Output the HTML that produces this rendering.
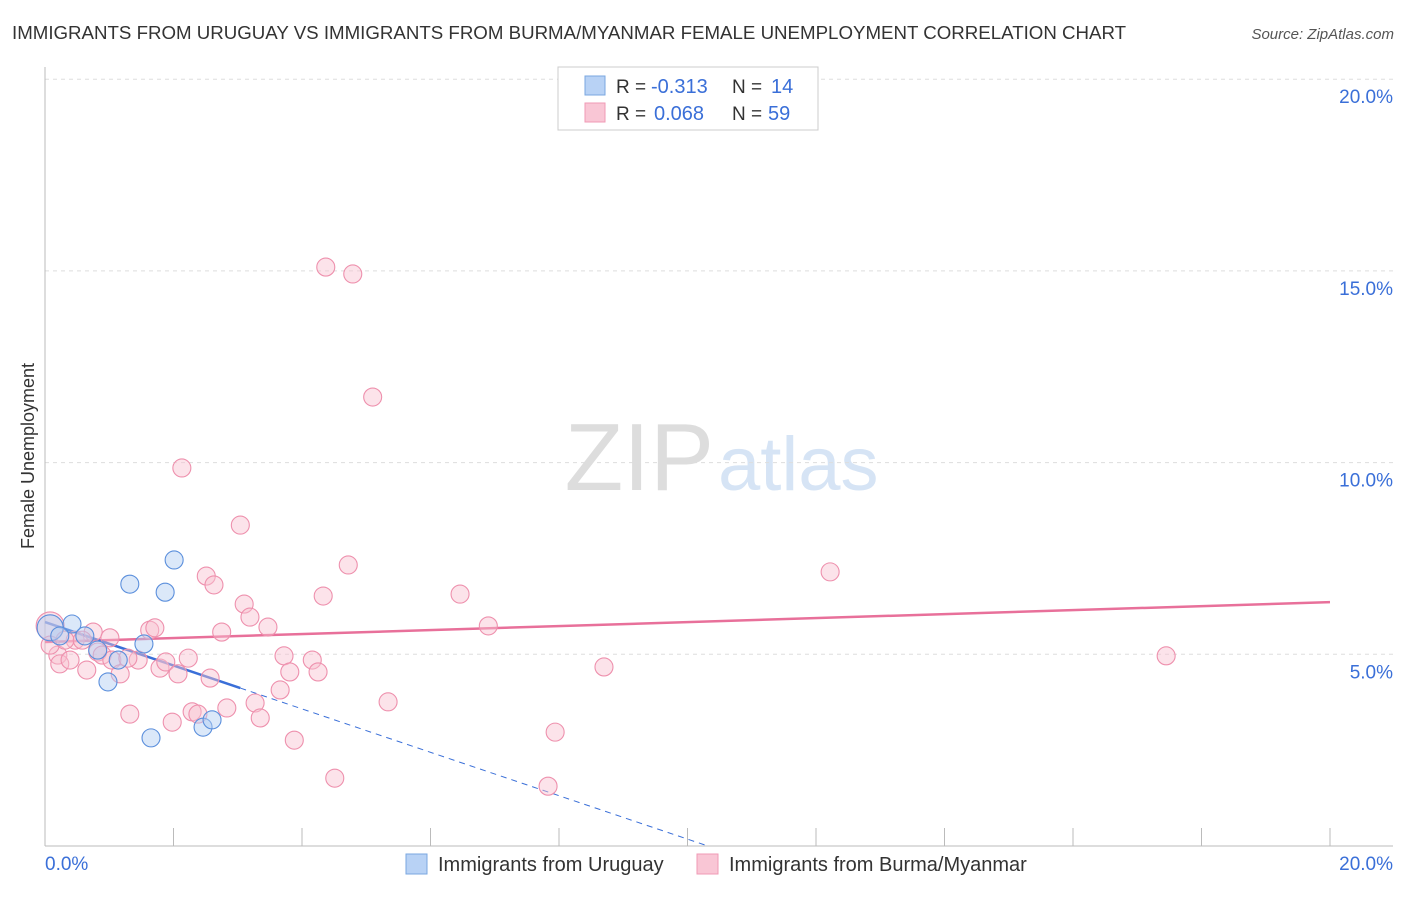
<!DOCTYPE html>
<html><head><meta charset="utf-8"><style>
body{margin:0;background:#fff;font-family:"Liberation Sans",sans-serif}
svg text{font-family:"Liberation Sans",sans-serif}
</style></head><body>
<svg width="1406" height="892">
<text x="12" y="39" font-size="18.7" fill="#333">IMMIGRANTS FROM URUGUAY VS IMMIGRANTS FROM BURMA/MYANMAR FEMALE UNEMPLOYMENT CORRELATION CHART</text>
<text x="1394" y="39" font-size="15" fill="#555" font-style="italic" text-anchor="end">Source: ZipAtlas.com</text>
<text x="714" y="490" font-size="96" fill="#ddd" font-family="Liberation Serif" text-anchor="end">ZIP</text>
<text x="718" y="490" font-size="76" fill="#d6e4f5">atlas</text>
<g id="grid"></g><g id="axes"></g><g id="trend"></g><g id="pts"></g>
<text transform="translate(34,456) rotate(-90)" font-size="18" fill="#333" text-anchor="middle">Female Unemployment</text>
<g>
<rect x="558" y="67" width="260" height="63" fill="#fff" stroke="#ccc"/>
<rect x="585" y="76" width="20" height="19" fill="#b8d2f5" stroke="#7aa7e0"/>
<rect x="585" y="103" width="20" height="19" fill="#f9c6d5" stroke="#f09ab5"/>
<text x="616" y="93" font-size="19" fill="#333">R =</text>
<text x="651" y="93" font-size="20" fill="#3a6fd8">-0.313</text>
<text x="732" y="93" font-size="19" fill="#333">N =</text>
<text x="771" y="93" font-size="20" fill="#3a6fd8">14</text>
<text x="616" y="120" font-size="19" fill="#333">R =</text>
<text x="654" y="120" font-size="20" fill="#3a6fd8">0.068</text>
<text x="732" y="120" font-size="19" fill="#333">N =</text>
<text x="768" y="120" font-size="20" fill="#3a6fd8">59</text>
</g>
<g>
<rect x="406" y="854" width="21" height="20" fill="#b8d2f5" stroke="#7aa7e0"/>
<text x="438" y="871" font-size="20" fill="#333">Immigrants from Uruguay</text>
<rect x="697" y="854" width="21" height="20" fill="#f9c6d5" stroke="#f09ab5"/>
<text x="729" y="871" font-size="20" fill="#333">Immigrants from Burma/Myanmar</text>
</g>
</svg>
<script>
const blueX=[0.08,0.42,0.62,0.82,1.14,0.98,1.32,1.54,1.65,1.87,2.01,2.46,2.6,0.23];
const blueY=[5.69,5.79,5.48,5.11,4.85,4.28,6.83,5.27,2.82,6.62,7.46,3.1,3.29,5.48];
const pinkX=[0.08,0.2,0.23,0.39,0.47,0.65,0.75,0.82,0.89,1.01,1.04,1.17,1.32,1.45,1.63,1.71,1.79,1.88,1.98,2.07,2.13,2.23,2.29,2.38,2.51,2.57,2.63,2.75,2.83,3.04,3.1,3.19,3.27,3.35,3.47,3.66,3.72,3.81,3.88,4.16,4.25,4.33,4.37,4.51,4.72,4.79,5.1,5.34,6.46,6.9,7.83,7.94,8.7,12.22,17.45,0.08,0.31,0.58,1.29];
const pinkY=[5.74,4.98,4.75,4.85,5.37,4.59,5.58,5.06,4.98,5.43,4.85,4.49,3.44,4.85,5.63,5.69,4.64,4.8,3.23,4.49,9.86,4.9,3.5,3.44,7.04,4.38,6.81,5.58,3.6,8.37,6.31,5.97,3.73,3.34,5.71,4.07,4.96,4.54,2.76,4.85,4.54,6.52,15.1,1.77,7.33,14.92,11.71,3.76,6.57,5.74,1.56,2.97,4.67,7.15,4.96,5.24,5.37,5.37,4.9];
const blueTrend=[5.84,-0.566];
const pinkTrend=[5.32,0.052];
const yTicks=[5,10,15,20];
const NS="http://www.w3.org/2000/svg";
const sx=v=>45+v*64.25, sy=v=>846-v*38.34;
function mk(tag,attrs,parent){const e=document.createElementNS(NS,tag);for(const k in attrs)e.setAttribute(k,attrs[k]);document.getElementById(parent).appendChild(e);return e;}
yTicks.forEach(t=>{
 const l=mk('line',{x1:45,x2:1393,y1:sy(t),y2:sy(t),stroke:'#ddd','stroke-dasharray':'4,4'},'grid');
 
 
 const tx=mk('text',{x:1393,y:sy(t)+24,'font-size':19,fill:'#3a6fd8','text-anchor':'end'},'grid');tx.textContent=t.toFixed(1)+'%';
 
 
});
const ax=mk('line',{x1:45,x2:45,y1:67,y2:846,stroke:'#bbb'},'axes');


const bx=mk('line',{x1:45,x2:1393,y1:846,y2:846,stroke:'#bbb'},'axes');


for(let i=0;i<=10;i++){const t=mk('line',{x1:sx(i*2),x2:sx(i*2),y1:828,y2:846,stroke:'#bbb'},'axes');
 
 }
[['0.0%',45,'start'],['20.0%',1393,'end']].forEach(a=>{const t=mk('text',{x:a[1],y:870,'font-size':19,fill:'#3a6fd8','text-anchor':a[2]},'axes');t.textContent=a[0];
 
 });
function pt(x,y,fill,stroke,r){const c=mk('circle',{cx:sx(x),cy:sy(y),r:r,fill:fill,'fill-opacity':0.45,stroke:stroke,'stroke-width':1.1},'pts');return c;}
pinkX.forEach((x,i)=>{const c=pt(x,pinkY[i],'#f9c0d0','#ee90ad',i==0?14:9);
 
 });
blueX.forEach((x,i)=>{const c=pt(x,blueY[i],'#b0ccf2','#5b8fdc',i==0?13:9);
 
 });
const pl=mk('line',{x1:sx(0),y1:sy(pinkTrend[0]),x2:sx(20),y2:sy(pinkTrend[0]+pinkTrend[1]*20),stroke:'#e8709a','stroke-width':2.5},'trend');


const bs=mk('line',{x1:sx(0),y1:sy(blueTrend[0]),x2:sx(3.04),y2:sy(blueTrend[0]+blueTrend[1]*3.04),stroke:'#3a6fd8','stroke-width':2.5},'trend');


const xe=-blueTrend[0]/blueTrend[1];
const bd=mk('line',{x1:sx(3.04),y1:sy(blueTrend[0]+blueTrend[1]*3.04),x2:sx(xe),y2:sy(0),stroke:'#3a6fd8','stroke-width':1,'stroke-dasharray':'6,5'},'trend');


</script>
</body></html>
